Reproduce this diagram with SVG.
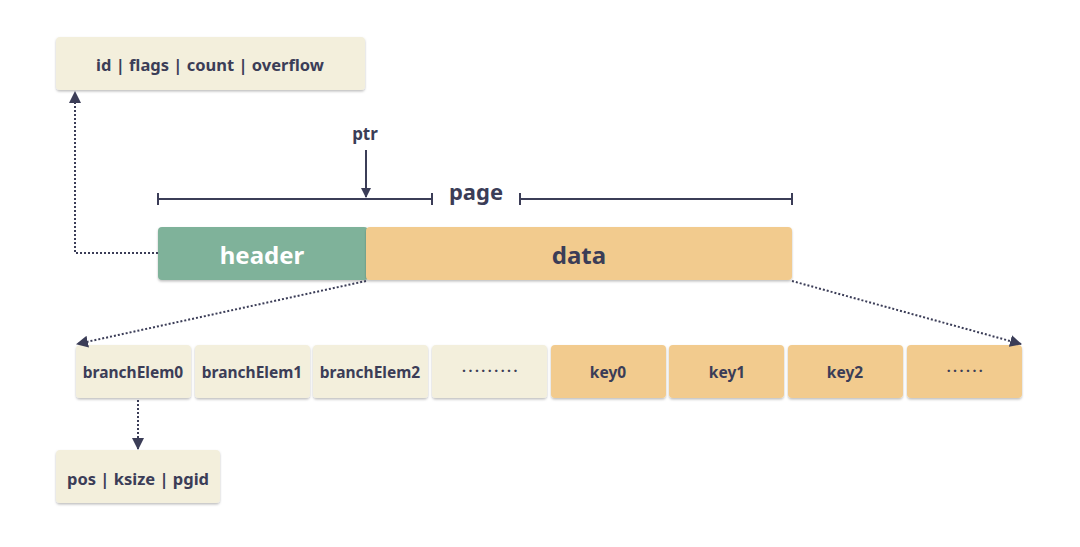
<svg xmlns="http://www.w3.org/2000/svg" width="1080" height="547" viewBox="0 0 1080 547">
<defs>
<filter id="sh" x="-10%" y="-20%" width="120%" height="150%"><feDropShadow dx="0" dy="1.5" stdDeviation="1" flood-color="#000" flood-opacity="0.25"/></filter>
<marker id="ah" viewBox="0 0 10 10" refX="9" refY="5" markerWidth="10" markerHeight="10" markerUnits="userSpaceOnUse" orient="auto"><path d="M0,0 L10,5 L0,10 z" fill="#3b3d57"/></marker>
<marker id="ahb" viewBox="0 0 12 12" refX="11" refY="6" markerWidth="12" markerHeight="12" markerUnits="userSpaceOnUse" orient="auto"><path d="M0,0 L12,6 L0,12 z" fill="#3b3d57"/></marker>
</defs>
<style>
.t{font-family:"Comic Sans MS","Noto Sans",sans-serif;font-weight:bold;fill:#3b3d57;text-anchor:middle;dominant-baseline:central}
.cream{fill:#f3efdc;filter:url(#sh)}
.org{fill:#f2cb8e;filter:url(#sh)}
.dot{fill:none;stroke:#3b3d57;stroke-width:2;stroke-dasharray:2 2}
.ln{fill:none;stroke:#3b3d57;stroke-width:2}
.e{font-size:15.5px}
.dots{font-size:14px;letter-spacing:2.5px}
</style>
<rect width="1080" height="547" fill="#fff"/>
<g id="meta"><rect class="cream" x="56" y="37" width="309" height="53" rx="4"/><text class="t" x="210" y="64" font-size="16.5">id | flags | count | overflow</text></g>
<g id="ptr"><text class="t" x="365" y="133" font-size="17">ptr</text></g>
<g id="page"><text class="t" x="476" y="191" font-size="22">page</text></g>
<g id="header"><rect x="158" y="227" width="210" height="53" rx="4" fill="#7fb29a" filter="url(#sh)"/><text class="t" x="262" y="254" font-size="24" style="fill:#fff">header</text></g>
<g id="data"><rect class="org" x="366" y="227" width="426" height="53" rx="4"/><text class="t" x="579" y="254" font-size="24">data</text></g>
<g id="b0"><rect class="cream" x="76" y="345" width="115" height="53" rx="4"/><text class="t e" x="133" y="372">branchElem0</text></g>
<g id="b1"><rect class="cream" x="195" y="345" width="115" height="53" rx="4"/><text class="t e" x="252" y="372">branchElem1</text></g>
<g id="b2"><rect class="cream" x="313" y="345" width="115" height="53" rx="4"/><text class="t e" x="370" y="372">branchElem2</text></g>
<g id="b3"><rect class="cream" x="432" y="345" width="115" height="53" rx="4"/><text class="t dots" x="491" y="370">·········</text></g>
<g id="k0"><rect class="org" x="551" y="345" width="115" height="53" rx="4"/><text class="t e" x="608" y="372">key0</text></g>
<g id="k1"><rect class="org" x="669" y="345" width="115" height="53" rx="4"/><text class="t e" x="727" y="372">key1</text></g>
<g id="k2"><rect class="org" x="788" y="345" width="115" height="53" rx="4"/><text class="t e" x="845" y="372">key2</text></g>
<g id="k3"><rect class="org" x="907" y="345" width="115" height="53" rx="4"/><text class="t dots" x="966" y="370">······</text></g>
<g id="elem"><rect class="cream" x="56" y="450" width="164" height="53" rx="4"/><text class="t" x="138" y="478" font-size="16.5">pos | ksize | pgid</text></g>
<g id="connectors">
<path class="ln" d="M158,199 H432 M158,193 V205 M432,193 V205 M520,199 H792 M520,193 V205 M792,193 V205"/>
<path class="ln" d="M366,150 V197" marker-end="url(#ah)"/>
<path class="dot" d="M158,253 H75 V92" marker-end="url(#ahb)"/>
<path class="dot" d="M366,281 L77,344" marker-end="url(#ahb)"/>
<path class="dot" d="M792,281 L1021,344" marker-end="url(#ahb)"/>
<path class="dot" d="M138,400 V449" marker-end="url(#ahb)"/>
</g>
</svg>
